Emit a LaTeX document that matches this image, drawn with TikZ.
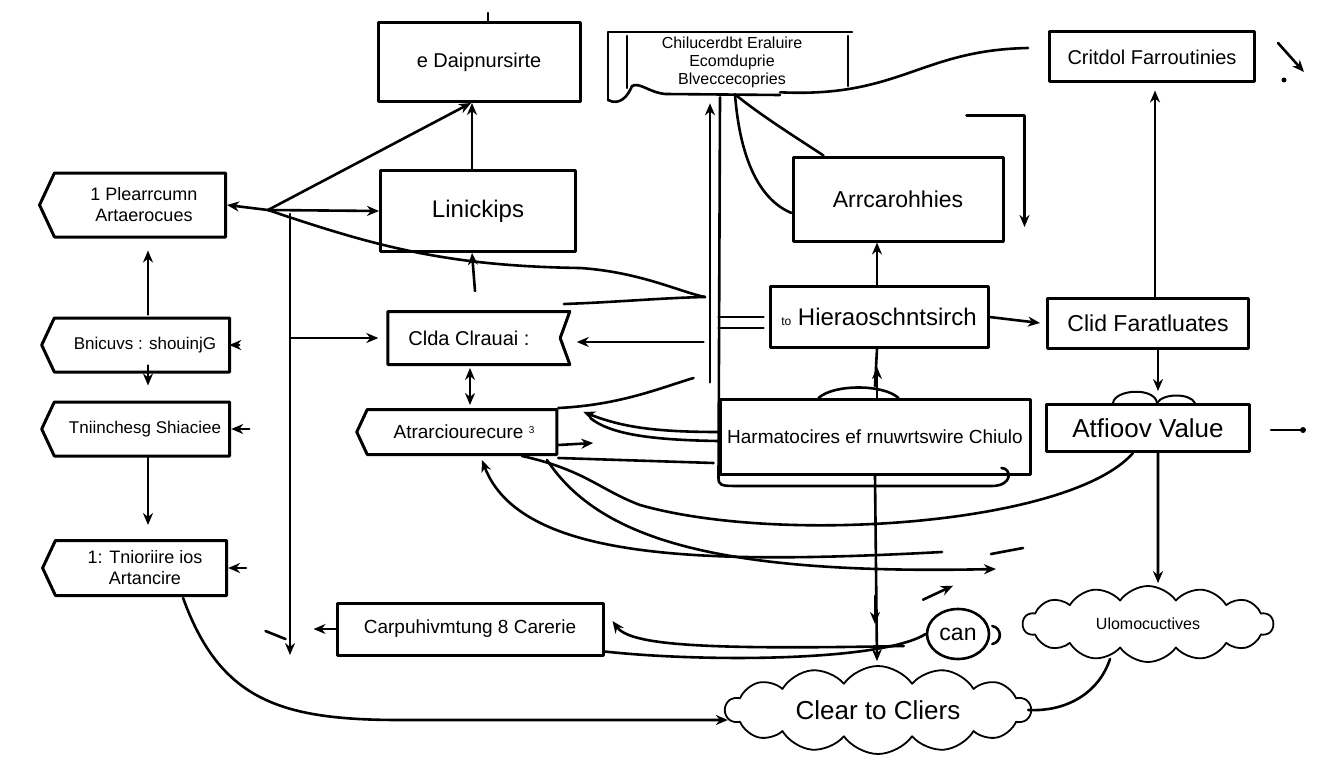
\documentclass[tikz,border=0pt]{standalone}
\usepackage{fontspec}
\setmainfont{Liberation Sans}
\usetikzlibrary{arrows.meta,shapes.symbols,shapes.geometric,calc}
\newcommand{\fs}[1]{\fontsize{#1}{#1}\selectfont}
\begin{document}
\begin{tikzpicture}[x=1pt,y=-1pt,line width=2.6pt,line cap=round,line join=round,
  box/.style={draw,line width=3pt,rectangle,inner sep=0pt,align=center},
  ban/.style={draw,line width=3pt,signal,signal to=west,signal pointer angle=130,inner sep=0pt,align=center},
  ar/.style={-{Stealth[length=12pt,width=10pt]}},
  ra/.style={{Stealth[length=12pt,width=10pt]}-},
  dar/.style={{Stealth[length=12pt,width=10pt]}-{Stealth[length=12pt,width=10pt]}},
  cl/.style={draw,line width=1.8pt,cloud,cloud puffs=14,cloud puff arc=110,cloud ignores aspect,inner sep=0pt,align=center}]
\useasboundingbox[fill=white] (0,0) rectangle (1344,768);

% nodes
\node[box,minimum width=202pt,minimum height=79pt,font=\fs{20}] (dol) at (479,62) {e Daipnursirte};
\node[align=center,font=\fs{16},inner sep=0pt,minimum width=240pt,minimum height=68pt] (doc) at (732,62)
  {Chilucerdbt Eraluire\\[2pt]Ecomduprie\\[2pt]Blveccecopries};
\node[box,minimum width=205pt,minimum height=50pt,font=\fs{20}] (crit) at (1152,57) {Critdol Farroutinies};
\node[ban,minimum width=186pt,minimum height=64pt,font=\fs{18}] (pl) at (140,205) {\hspace*{8pt}1 Plearrcumn\\[3pt]\hspace*{8pt}Artaerocues};
\node[box,minimum width=195pt,minimum height=81pt,font=\fs{24}] (lin) at (478,211) {Linickips};
\node[box,minimum width=210pt,minimum height=84pt,font=\fs{23}] (arr) at (898,199) {Arrcarohhies};
\node[ban,minimum width=188pt,minimum height=54pt,font=\fs{17}] (bn) at (142,345) {\hspace*{6pt}Bnicuvs : shouinjG};
\node[draw,line width=3pt,signal,signal to=nowhere,signal from=east,signal pointer angle=140,inner sep=0pt,
  minimum width=182pt,minimum height=53pt,font=\fs{20}] (clda) at (474,338) {Clda Clrauai :\hspace*{10pt}};
\node[box,minimum width=218pt,minimum height=61pt,font=\fs{24}] (hier) at (879,317) {{\fs{12}to} Hieraoschntsirch};
\node[box,minimum width=201pt,minimum height=50pt,font=\fs{23}] (cfar) at (1148,323) {Clid Faratluates};
\node[ban,minimum width=188pt,minimum height=54pt,font=\fs{17}] (tn) at (142,429) {\hspace*{6pt}Tniinchesg Shiaciee};
\node[ban,minimum width=200pt,minimum height=45pt,font=\fs{19}] (atr) at (462,432) {\hspace*{4pt}Atrarciourecure {\fs{10}\raisebox{5pt}{3}}};
\node[box,minimum width=310pt,minimum height=75pt,font=\fs{19}] (hmc) at (875,437) {Harmatocires ef rnuwrtswire Chiulo};
\node[box,minimum width=203pt,minimum height=47pt,font=\fs{26}] (av) at (1148,428) {Atfioov Value};
\node[ban,minimum width=184pt,minimum height=55pt,font=\fs{18}] (ti) at (141,568) {\hspace*{8pt}1: Tnioriire ios\\[3pt]\hspace*{8pt}Artancire};
\node[box,minimum width=266pt,minimum height=52pt,font=\fs{19}] (cp) at (470,629) {Carpuhivmtung 8 Carerie};
\node[draw,line width=2.6pt,ellipse,inner sep=0pt,minimum width=62pt,minimum height=50pt,font=\fs{23}] (can) at (958,634) {can};
\node[cl,minimum width=250pt,minimum height=76pt,font=\fs{16}] (ulo) at (1148,624) {Ulomocuctives};
\node[cl,minimum width=305pt,minimum height=88pt,font=\fs{26}] (clr) at (878,710) {Clear to Cliers};

% document outline around doc text
\draw[line width=2.8pt] (608,100) -- (608,32) -- (852,32);
\draw (848,36) -- (848,86);
\draw (627,36) -- (627,88);
\draw (608,100) .. controls (620,106) and (628,96) .. (632,86) .. controls (640,82) and (648,92) .. (665,94) -- (780,95);

% decorations on boxes
\draw ($(dol.north)+(9,-8)$) -- ($(dol.north)+(9,0)$);
\draw ($(hmc.north west)+(100,0)$) .. controls ($(hmc.north west)+(115,-14)$) and ($(hmc.north west)+(165,-14)$) .. ($(hmc.north west)+(180,0)$);
\draw ($(hmc.south west)+(0,0)$) .. controls ($(hmc.south west)+(0,10)$) .. ($(hmc.south west)+(25,10)$) -- ($(hmc.south east)+(-40,10)$) .. controls ($(hmc.south east)+(-18,10)$) and ($(hmc.south east)+(-20,-8)$) .. ($(hmc.south east)+(-30,-8)$);
\draw[line width=2pt] ($(av.north west)+(68,0)$) .. controls ($(av.north west)+(70,-14)$) and ($(av.north west)+(110,-16)$) .. ($(av.north west)+(112,0)$);
\draw[line width=2pt] ($(av.north west)+(112,0)$) .. controls ($(av.north west)+(118,-10)$) and ($(av.north west)+(145,-10)$) .. ($(av.north west)+(150,0)$);

% hub on the left
\coordinate (hub) at (268,210);
\draw[ar] (hub) -- (pl.east);
\draw[ar] (hub) -- (lin.west);
\draw[ar] (hub) -- ($(dol.south)+(-8,0)$);
\draw[ar] ($(lin.north)+(-6,0)$) -- ($(dol.south)+(-7,0)$);
\coordinate (hk) at (705,297);
\draw (hub) .. controls (380,248) and (450,266) .. (580,268) .. controls (640,272) and (680,292) .. (hk);
\coordinate (vt) at (290,214);
\coordinate (vb) at (290,655);
\draw[ar] (vt) -- (vb);
\draw[ar] (vt |- clda.west) -- ($(clda.west)+(-8,0)$);
\draw[ar] ($(lin.south)+(-3,38)$) -- ($(lin.south)+(-6,0)$);

% left column
\draw[ar] ($(bn.north)+(6,-2)$) -- ($(pl.south)+(8,12)$);
\draw[ar] ($(bn.south)+(6,-8)$) -- ($(bn.south)+(6,12)$);
\draw[ar] ($(tn.south)+(6,0)$) -- ($(ti.north)+(7,-14)$);
\draw[ar] ($(bn.east)+(8,0)$) -- ($(bn.east)+(-2,0)$);
\draw[ar] ($(tn.east)+(18,0)$) -- ($(tn.east)+(0,0)$);
\draw[ar] ($(ti.east)+(18,0)$) -- ($(ti.east)+(0,0)$);
\draw[ar] ($(ti.south east)+(-45,4)$) .. controls (220,700) and (280,720) .. (400,720) -- ($(clr.west)+(4,10)$);

% middle
\draw[dar] ($(clda.south)+(-4,2)$) -- ($(atr.north)+(8,-3)$);
\draw ($(clda.north east)+(-8,-6)$) .. controls (620,302) and (660,298) .. (hk);
\draw[ar] ($(hier.west)+(-65,25)$) -- ($(clda.east)+(15,4)$);
\draw ($(hier.west)+(-50,0)$) -- ($(hier.west)+(-5,0)$);
\draw ($(hier.west)+(-50,11)$) -- ($(hier.west)+(-5,11)$);
\draw[ar] ($(doc.south)+(-22,285)$) -- ($(doc.south)+(-22,6)$);
\draw ($(doc.south)+(-12,0)$) -- ($(hmc.south west)+(0,0)$);
\draw ($(doc.south)+(3,-3)$) .. controls (740,160) and (760,200) .. ($(arr.west)+(0,14)$);
\draw ($(doc.south)+(3,-3)$) .. controls (760,115) and (800,140) .. ($(arr.north west)+(32,0)$);
\draw ($(doc.south)+(48,-5)$) .. controls (900,98) and (920,50) .. ($(crit.west)+(-20,-9)$);
\draw[ar] ($(arr.north east)+(-38,-40)$) -- ($(arr.north east)+(20,-40)$) -- ($(arr.east)+(20,28)$);
\draw[ar] ($(hier.north)+(-2,0)$) -- ($(arr.south)+(-21,0)$);
\draw[ar] (hier.east) -- ($(cfar.west)+(-6,0)$);
\draw ($(hier.south)+(-2,0)$) -- ($(hmc.north)+(0,-12)$);
\draw[ar] ($(hmc.south)+(0,0)$) -- ($(clr.north)+(-1,-4)$);
\draw[ar] ($(hmc.south)+(0,120)$) -- ($(hmc.south)+(0,148)$);
\draw[ar] ($(hier.south)+(-2,50)$) -- ($(hier.south)+(-2,18)$);

% right column
\draw[ar] ($(cfar.north)+(7,0)$) -- ($(crit.south)+(3,7)$);
\draw[ar] ($(cfar.south)+(10,0)$) -- ($(av.north)+(10,-12)$);
\draw[ar] ($(av.south)+(10,0)$) -- ($(ulo.north)+(10,-2)$);
\draw ($(av.east)+(20,2)$) -- ($(av.east)+(52,2)$);
\fill ($(av.east)+(52,2)$) circle (3pt);
\draw[ar] ($(crit.east)+(22,-14)$) -- ($(crit.east)+(48,15)$);
\fill ($(crit.east)+(28,23)$) circle (2.5pt);

% B12 connections
\draw (atr.north east) .. controls (620,405) and (660,388) .. ($(hmc.north west)+(-25,-20)$);
\draw[ar] ($(hmc.west)+(0,-5)$) .. controls (650,432) and (620,426) .. ($(atr.east)+(25,-20)$);
\draw ($(hmc.west)+(0,4)$) .. controls (650,440) and (610,434) .. ($(atr.east)+(32,-14)$);
\draw[ar] ($(atr.south east)+(0,-8)$) -- ($(atr.south east)+(35,-10)$);
\draw ($(atr.south east)+(0,5)$) -- ($(hmc.south west)+(-5,-13)$);
\coordinate (e1) at (942,552);
\coordinate (e2) at (996,569);
\draw[ra] ($(atr.south)+(20,4)$) .. controls (520,560) and (700,565) .. (e1);
\draw[ar] ($(atr.south)+(85,4)$) .. controls (600,540) and (720,575) .. (e2);
\draw ($(av.south)+(-15,0)$) .. controls (1070,525) and (780,545) .. (640,505) .. controls (600,490) and (585,470) .. ($(atr.south)+(60,0)$);
\draw (e2) ++(-5,-15) -- ++(32,-6);
\draw[ar] ($(can.north)+(-35,-8)$) -- ($(can.north)+(-5,-22)$);

% bottom
\draw[ar] ($(can.west)+(-22,12)$) .. controls (700,650) and (630,645) .. ($(cp.east)+(8,-8)$);
\draw ($(cp.south east)+(0,-5)$) .. controls (700,662) and (880,662) .. (can.west);
\draw[ar] (cp.west) -- ($(cp.west)+(-22,0)$);
\draw ($(cp.west)+(-70,2)$) -- ($(cp.west)+(-50,10)$);
\draw ($(can.east)+(2,-8)$) .. controls ($(can.east)+(12,-6)$) and ($(can.east)+(12,8)$) .. ($(can.east)+(2,10)$);
\draw ($(ulo.south)+(-38,-4)$) .. controls (1100,690) and (1070,712) .. ($(clr.east)+(-4,0)$);
\end{tikzpicture}
\end{document}
